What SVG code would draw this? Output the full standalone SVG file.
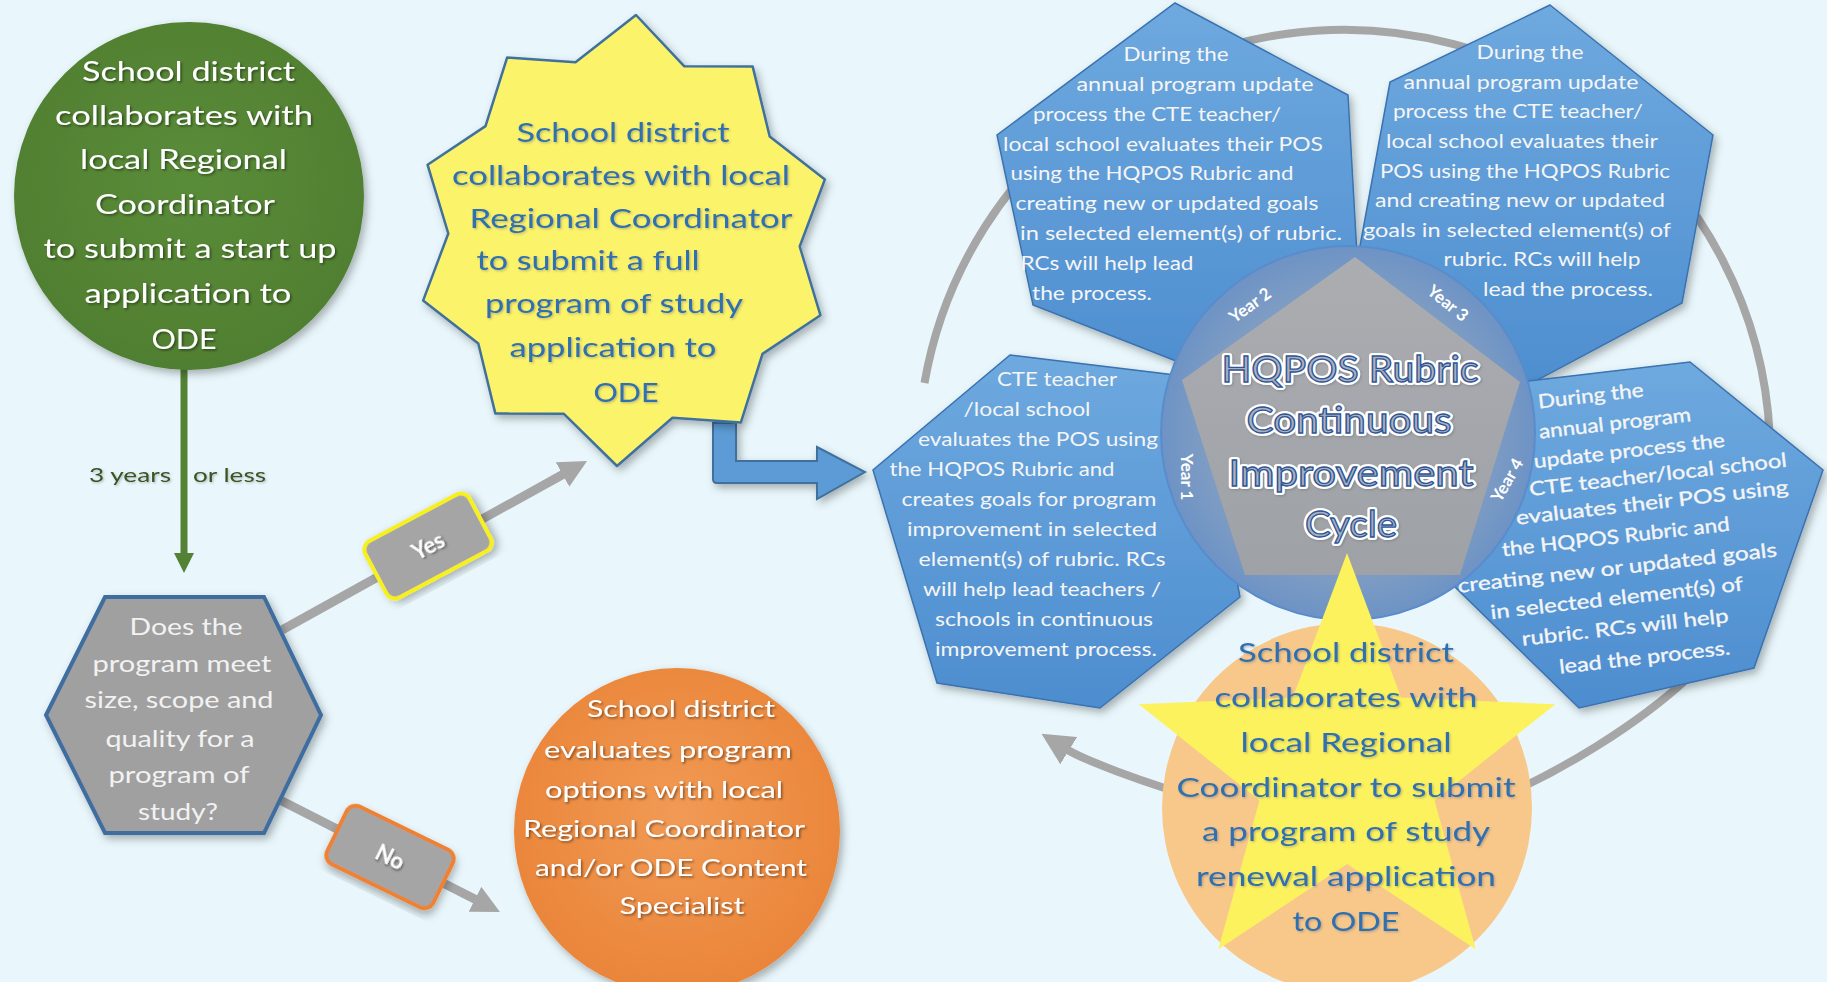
<svg xmlns="http://www.w3.org/2000/svg" width="1827" height="982" viewBox="0 0 1827 982">
<defs>
<style>
text{font-family:Lato,"Open Sans","Liberation Sans",sans-serif;text-anchor:middle}
.w{fill:#ffffff}
.g{font-size:26px}
.blue{fill:#2e6fb0}
.st{font-size:26.5px}
.or{font-size:23.5px}
.hx{font-size:23px;fill:#f2f2f2}
.p{font-size:18.5px;fill:#f5f5f5}
.p4{font-size:19.5px;fill:#f5f5f5;stroke:#f5f5f5;stroke-width:0.35}
.yr{font-size:17px;font-weight:bold;fill:#ffffff}
.lbl{font-size:22px;font-weight:bold;fill:#ffffff}
.yrs{font-size:20px;fill:#375623}
.ttl{font-size:36px;fill:#a9b1bd;stroke:#2f5597;stroke-width:1.3}
.halo{font-size:36px;fill:none;stroke:#ffffff;stroke-width:6;stroke-linejoin:round}
.yp{fill:url(#pg);stroke:#3a72b0;stroke-width:1.5}
</style>
<linearGradient id="pg" x1="0" y1="0" x2="0" y2="1">
<stop offset="0" stop-color="#6ea9df"/><stop offset="1" stop-color="#4d8dcf"/>
</linearGradient>
<radialGradient id="hubc" cx="0.5" cy="0.5" r="0.5">
<stop offset="0.6" stop-color="#8aa3c2"/><stop offset="1" stop-color="#6d93c5"/>
</radialGradient>
<linearGradient id="pent" x1="0" y1="0" x2="0" y2="1">
<stop offset="0" stop-color="#abadb1"/><stop offset="1" stop-color="#9ea1a6"/>
</linearGradient>
<radialGradient id="orgc" cx="0.5" cy="0.45" r="0.55">
<stop offset="0" stop-color="#f19a55"/><stop offset="1" stop-color="#ea8539"/>
</radialGradient>
<radialGradient id="grc" cx="0.5" cy="0.45" r="0.55">
<stop offset="0" stop-color="#5a8c39"/><stop offset="1" stop-color="#507f31"/>
</radialGradient>
<filter id="sh" x="-10%" y="-10%" width="125%" height="125%">
<feDropShadow dx="3" dy="4" stdDeviation="4" flood-color="#000" flood-opacity="0.3"/>
</filter>
<filter id="ts" x="-5%" y="-20%" width="110%" height="150%">
<feDropShadow dx="1.5" dy="1.5" stdDeviation="1" flood-color="#000" flood-opacity="0.45"/>
</filter>
<filter id="tsl" x="-5%" y="-20%" width="110%" height="150%">
<feDropShadow dx="1.2" dy="1.2" stdDeviation="0.8" flood-color="#6b6b6b" flood-opacity="0.45"/>
</filter>
<marker id="ahGreen" viewBox="0 0 10 10" refX="1" refY="5" markerWidth="20" markerHeight="20" markerUnits="userSpaceOnUse" orient="auto">
<path d="M0,0 L10,5 L0,10 Z" fill="#548235"/>
</marker>
<marker id="ahGray" viewBox="0 0 10 10" refX="1" refY="5" markerWidth="28" markerHeight="28" markerUnits="userSpaceOnUse" orient="auto">
<path d="M0,0 L10,5 L0,10 Z" fill="#a6a6a6"/>
</marker>
<marker id="ahArc" viewBox="0 0 10 10" refX="1" refY="5" markerWidth="32" markerHeight="32" markerUnits="userSpaceOnUse" orient="auto">
<path d="M0,0 L10,5 L0,10 Z" fill="#a6a6a6"/>
</marker>
</defs>

<rect x="0" y="0" width="1827" height="982" fill="#e9f7fc"/>

<g id="connectors">
<path id="cycle-arc" d="M924.5,383 A426,426 0 1 1 1744,603 C1710,697 1500,815 1400,830 C1300,840 1100,770 1066,749" fill="none" stroke="#a6a6a6" stroke-width="8" marker-end="url(#ahArc)"/>
<path id="to-cycle" d="M713,423 L736,423 L736,461 L817,461 L817,447 L865,472 L817,499 L817,483 L717,483 Q713,483 713,479 Z" fill="#5b9bd5" stroke="#41719c" stroke-width="2" filter="url(#sh)"/>
<line id="start-to-decision" x1="184" y1="366" x2="184" y2="555" stroke="#548235" stroke-width="7" marker-end="url(#ahGreen)"/>
<g filter="url(#tsl)">
<text class="yrs" x="130" y="482" textLength="82" lengthAdjust="spacingAndGlyphs">3 years</text>
<text class="yrs" x="229.5" y="482" textLength="73" lengthAdjust="spacingAndGlyphs">or less</text>
</g>
<line id="decision-yes" x1="282" y1="630" x2="565" y2="473.2" stroke="#a6a6a6" stroke-width="9" marker-end="url(#ahGray)"/>
<line id="decision-no" x1="278" y1="799" x2="477.5" y2="900.6" stroke="#a6a6a6" stroke-width="9" marker-end="url(#ahGray)"/>
<g id="label-yes" transform="translate(428,546) rotate(-28)">
<rect x="-59" y="-32" width="118" height="64" rx="10" fill="#a5a5a5" stroke="#f7f01a" stroke-width="4" filter="url(#sh)"/>
<text class="lbl" x="0" y="8" filter="url(#ts)">Yes</text>
</g>
<g id="label-no" transform="translate(390,857) rotate(26)">
<rect x="-59" y="-32" width="118" height="64" rx="10" fill="#a5a5a5" stroke="#ed8236" stroke-width="4" filter="url(#sh)"/>
<text class="lbl" x="0" y="8" filter="url(#ts)">No</text>
</g>
</g>

<g id="node-startup">
<ellipse cx="189" cy="196" rx="175" ry="174" fill="url(#grc)" filter="url(#sh)"/>
<g class="w g" filter="url(#ts)">
<text x="188.5" y="81" textLength="213" lengthAdjust="spacingAndGlyphs">School district</text>
<text x="184" y="125" textLength="258" lengthAdjust="spacingAndGlyphs">collaborates with</text>
<text x="183.5" y="169" textLength="207" lengthAdjust="spacingAndGlyphs">local Regional</text>
<text x="185" y="214" textLength="180" lengthAdjust="spacingAndGlyphs">Coordinator</text>
<text x="190" y="258" textLength="293" lengthAdjust="spacingAndGlyphs">to submit a start up</text>
<text x="188" y="303" textLength="207" lengthAdjust="spacingAndGlyphs">application to</text>
<text x="184" y="349" textLength="65" lengthAdjust="spacingAndGlyphs">ODE</text>
</g>
</g>

<g id="node-decision">
<polygon points="105,597 264,597 321,715 264,833 105,833 46,715" fill="#a0a0a0" stroke="#3f6d9f" stroke-width="4" filter="url(#sh)"/>
<g class="hx">
<text x="186" y="635" textLength="113" lengthAdjust="spacingAndGlyphs">Does the</text>
<text x="182" y="672" textLength="179" lengthAdjust="spacingAndGlyphs">program meet</text>
<text x="179" y="708" textLength="189" lengthAdjust="spacingAndGlyphs">size, scope and</text>
<text x="180" y="747" textLength="149" lengthAdjust="spacingAndGlyphs">quality for a</text>
<text x="179" y="783" textLength="141" lengthAdjust="spacingAndGlyphs">program of</text>
<text x="178" y="820" textLength="80" lengthAdjust="spacingAndGlyphs">study?</text>
</g>
</g>

<g id="node-full-application">
<polygon points="636,15 684.1,66.2 752.7,66.6 769.7,136.5 824.9,179.4 799.7,246.5 820.4,315.2 762.5,353.9 740.9,422.4 672.5,417.8 617,466 563.9,413.8 495.3,413.4 478.3,343.5 423.1,300.6 448.3,233.5 427.6,164.8 485.5,126.1 507.1,57.6 575.5,62.2" fill="#fbf36b" stroke="#41719c" stroke-width="2.5" stroke-linejoin="round" filter="url(#sh)"/>
<g class="blue st" filter="url(#tsl)">
<text x="623" y="142" textLength="213" lengthAdjust="spacingAndGlyphs">School district</text>
<text x="621" y="185" textLength="338" lengthAdjust="spacingAndGlyphs">collaborates with local</text>
<text x="631" y="228" textLength="323" lengthAdjust="spacingAndGlyphs">Regional Coordinator</text>
<text x="588" y="270" textLength="223" lengthAdjust="spacingAndGlyphs">to submit a full</text>
<text x="614" y="313" textLength="258" lengthAdjust="spacingAndGlyphs">program of study</text>
<text x="613" y="357" textLength="207" lengthAdjust="spacingAndGlyphs">application to</text>
<text x="626" y="402" textLength="65" lengthAdjust="spacingAndGlyphs">ODE</text>
</g>
</g>

<g id="node-evaluate-options">
<ellipse cx="677" cy="831" rx="163" ry="163" fill="url(#orgc)" filter="url(#sh)"/>
<g class="w or" filter="url(#ts)">
<text x="681" y="717" textLength="188" lengthAdjust="spacingAndGlyphs">School district</text>
<text x="668" y="758" textLength="248" lengthAdjust="spacingAndGlyphs">evaluates program</text>
<text x="664" y="798" textLength="238" lengthAdjust="spacingAndGlyphs">options with local</text>
<text x="664" y="837" textLength="282" lengthAdjust="spacingAndGlyphs">Regional Coordinator</text>
<text x="671" y="876" textLength="272" lengthAdjust="spacingAndGlyphs">and/or ODE Content</text>
<text x="682" y="914" textLength="125" lengthAdjust="spacingAndGlyphs">Specialist</text>
</g>
</g>

<g id="node-year1">
<polygon class="yp" points="1010,355 1200,378 1240,597 1100,708 937,683 873,470" filter="url(#sh)"/>
<g class="p">
<text x="1057" y="386" textLength="120" lengthAdjust="spacingAndGlyphs">CTE teacher</text>
<text x="1027" y="416" textLength="127" lengthAdjust="spacingAndGlyphs">/local school</text>
<text x="1038" y="446" textLength="240" lengthAdjust="spacingAndGlyphs">evaluates the POS using</text>
<text x="1002" y="476" textLength="225" lengthAdjust="spacingAndGlyphs">the HQPOS Rubric and</text>
<text x="1029" y="506" textLength="255" lengthAdjust="spacingAndGlyphs">creates goals for program</text>
<text x="1032" y="536" textLength="250" lengthAdjust="spacingAndGlyphs">improvement in selected</text>
<text x="1042" y="566" textLength="247" lengthAdjust="spacingAndGlyphs">element(s) of rubric. RCs</text>
<text x="1042" y="596" textLength="238" lengthAdjust="spacingAndGlyphs">will help lead teachers /</text>
<text x="1044" y="626" textLength="218" lengthAdjust="spacingAndGlyphs">schools in continuous</text>
<text x="1046" y="656" textLength="222" lengthAdjust="spacingAndGlyphs">improvement process.</text>
</g>
</g>

<g id="node-year2">
<polygon class="yp" points="1175,3 1348,95 1357,255 1250,390 1033,305 997,135" filter="url(#sh)"/>
<g class="p">
<text x="1176" y="61" textLength="105" lengthAdjust="spacingAndGlyphs">During the</text>
<text x="1195" y="91" textLength="237" lengthAdjust="spacingAndGlyphs">annual program update</text>
<text x="1157" y="121" textLength="248" lengthAdjust="spacingAndGlyphs">process the CTE teacher/</text>
<text x="1163" y="151" textLength="320" lengthAdjust="spacingAndGlyphs">local school evaluates their POS</text>
<text x="1152" y="180" textLength="283" lengthAdjust="spacingAndGlyphs">using the HQPOS Rubric and</text>
<text x="1167" y="210" textLength="303" lengthAdjust="spacingAndGlyphs">creating new or updated goals</text>
<text x="1181" y="240" textLength="322" lengthAdjust="spacingAndGlyphs">in selected element(s) of rubric.</text>
<text x="1107" y="270" textLength="173" lengthAdjust="spacingAndGlyphs">RCs will help lead</text>
<text x="1092" y="300" textLength="120" lengthAdjust="spacingAndGlyphs">the process.</text>
</g>
</g>

<g id="node-year3">
<polygon class="yp" points="1550,5 1713,135 1682,303 1500,400 1358,257 1390,82" filter="url(#sh)"/>
<g class="p">
<text x="1530" y="59" textLength="107" lengthAdjust="spacingAndGlyphs">During the</text>
<text x="1521" y="89" textLength="235" lengthAdjust="spacingAndGlyphs">annual program update</text>
<text x="1518" y="118" textLength="250" lengthAdjust="spacingAndGlyphs">process the CTE teacher/</text>
<text x="1522" y="148" textLength="272" lengthAdjust="spacingAndGlyphs">local school evaluates their</text>
<text x="1525" y="178" textLength="290" lengthAdjust="spacingAndGlyphs">POS using the HQPOS Rubric</text>
<text x="1520" y="207" textLength="290" lengthAdjust="spacingAndGlyphs">and creating new or updated</text>
<text x="1517" y="237" textLength="308" lengthAdjust="spacingAndGlyphs">goals in selected element(s) of</text>
<text x="1542" y="266" textLength="197" lengthAdjust="spacingAndGlyphs">rubric. RCs will help</text>
<text x="1568" y="296" textLength="170" lengthAdjust="spacingAndGlyphs">lead the process.</text>
</g>
</g>

<g id="node-year4">
<polygon class="yp" points="1520,382 1690,362 1823,470 1754,668 1579,708 1455,587" filter="url(#sh)"/>
<g class="p4" transform="rotate(-6.5 1620 530)">
<text x="1606" y="400" textLength="106" lengthAdjust="spacingAndGlyphs">During the</text>
<text x="1627" y="430" textLength="153" lengthAdjust="spacingAndGlyphs">annual program</text>
<text x="1638" y="459" textLength="192" lengthAdjust="spacingAndGlyphs">update process the</text>
<text x="1664" y="486" textLength="259" lengthAdjust="spacingAndGlyphs">CTE teacher/local school</text>
<text x="1655" y="513" textLength="274" lengthAdjust="spacingAndGlyphs">evaluates their POS using</text>
<text x="1615" y="543" textLength="229" lengthAdjust="spacingAndGlyphs">the HQPOS Rubric and</text>
<text x="1613" y="574" textLength="321" lengthAdjust="spacingAndGlyphs">creating new or updated goals</text>
<text x="1609" y="604" textLength="254" lengthAdjust="spacingAndGlyphs">in selected element(s) of</text>
<text x="1614" y="634" textLength="208" lengthAdjust="spacingAndGlyphs">rubric. RCs will help</text>
<text x="1630" y="666" textLength="172" lengthAdjust="spacingAndGlyphs">lead the process.</text>
</g>
</g>

<g id="node-hub">
<circle cx="1348" cy="433" r="187" fill="url(#hubc)" stroke="#5a8ccc" stroke-width="2"/>
<polygon points="1355,257 1520,382 1460,575 1245,575 1182,380" fill="url(#pent)"/>
<text class="yr" transform="translate(1187,477) rotate(90)" y="6">Year 1</text>
<text class="yr" transform="translate(1250,305) rotate(-36)" y="6">Year 2</text>
<text class="yr" transform="translate(1448,303) rotate(39)" y="6">Year 3</text>
<text class="yr" transform="translate(1507,480) rotate(-60)" y="6">Year 4</text>
<g filter="url(#tsl)">
<text class="halo" x="1350" y="382" textLength="257" lengthAdjust="spacingAndGlyphs">HQPOS Rubric</text>
<text class="halo" x="1349" y="433" textLength="205" lengthAdjust="spacingAndGlyphs">Continuous</text>
<text class="halo" x="1351" y="486" textLength="245" lengthAdjust="spacingAndGlyphs">Improvement</text>
<text class="halo" x="1351" y="537" textLength="92" lengthAdjust="spacingAndGlyphs">Cycle</text>
</g>
<text class="ttl" x="1350" y="382" textLength="257" lengthAdjust="spacingAndGlyphs">HQPOS Rubric</text>
<text class="ttl" x="1349" y="433" textLength="205" lengthAdjust="spacingAndGlyphs">Continuous</text>
<text class="ttl" x="1351" y="486" textLength="245" lengthAdjust="spacingAndGlyphs">Improvement</text>
<text class="ttl" x="1351" y="537" textLength="92" lengthAdjust="spacingAndGlyphs">Cycle</text>
</g>

<g id="node-renewal">
<circle cx="1347" cy="808" r="185" fill="#f8c88b"/>
<polygon points="1347,553 1401.1,697.6 1555.3,704.3 1434.5,800.4 1475.7,949.2 1347,864 1218.3,949.2 1259.5,800.4 1138.7,704.3 1292.9,697.6" fill="#fcf25e"/>
<g class="blue st" filter="url(#tsl)">
<text x="1346" y="662" textLength="216" lengthAdjust="spacingAndGlyphs">School district</text>
<text x="1346" y="707" textLength="263" lengthAdjust="spacingAndGlyphs">collaborates with</text>
<text x="1346" y="752" textLength="211" lengthAdjust="spacingAndGlyphs">local Regional</text>
<text x="1346" y="797" textLength="339" lengthAdjust="spacingAndGlyphs">Coordinator to submit</text>
<text x="1346" y="841" textLength="288" lengthAdjust="spacingAndGlyphs">a program of study</text>
<text x="1346" y="886" textLength="300" lengthAdjust="spacingAndGlyphs">renewal application</text>
<text x="1346" y="931" textLength="107" lengthAdjust="spacingAndGlyphs">to ODE</text>
</g>
</g>
</svg>
